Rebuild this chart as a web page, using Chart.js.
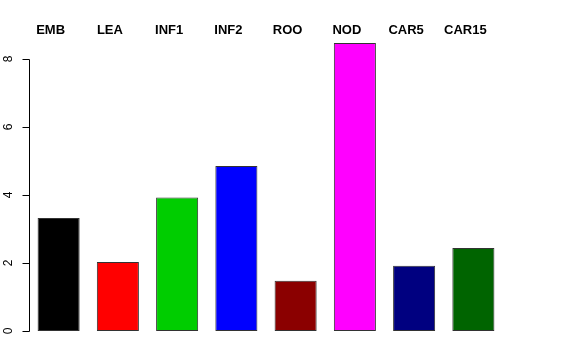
<!DOCTYPE html>
<html>
<head>
<meta charset="utf-8">
<script src="https://cdn.jsdelivr.net/npm/chart.js@4/dist/chart.umd.min.js"></script>
<style>
  html, body { margin: 0; padding: 0; background: #fff; }
  #wrap { width: 576px; height: 360px; position: relative; }
</style>
</head>
<body>
<div id="wrap"><canvas id="barChart"></canvas></div>
<script>
'use strict';

const tissues = ['EMB', 'LEA', 'INF1', 'INF2', 'ROO', 'NOD', 'CAR5', 'CAR15'];
const values  = [3.32, 2.03, 3.93, 4.85, 1.48, 8.47, 1.92, 2.44];
const colors  = ['#000000', '#ff0000', '#00cd00', '#0000ff', '#8b0000', '#ff00ff', '#000080', '#006400'];
const yTicks  = [0, 2, 4, 6, 8];

const FONT = '"Liberation Sans", Arial, sans-serif';

// R-style axes: left axis line only spans the tick range, labels rotated;
// group names written above the plot, a little left of each bar centre
const rAxis = {
  id: 'rAxis',
  afterDraw(chart) {
    const ctx = chart.ctx;
    const ys = chart.scales.y;
    const xs = chart.scales.x;
    const x0 = Math.round(chart.chartArea.left) + 0.5;
    const top = ys.getPixelForValue(yTicks[yTicks.length - 1]);
    const bot = ys.getPixelForValue(yTicks[0]);
    ctx.save();
    ctx.strokeStyle = '#000';
    ctx.lineWidth = 1;
    ctx.beginPath();
    ctx.moveTo(x0, Math.round(top) + 0.5);
    ctx.lineTo(x0, Math.round(bot) + 0.5);
    yTicks.forEach(v => {
      const y = Math.round(ys.getPixelForValue(v)) + 0.5;
      ctx.moveTo(x0 - 7, y);
      ctx.lineTo(x0, y);
    });
    ctx.stroke();
    ctx.fillStyle = '#000';
    ctx.font = '12px ' + FONT;
    ctx.textAlign = 'center';
    ctx.textBaseline = 'middle';
    yTicks.forEach(v => {
      const y = ys.getPixelForValue(v);
      ctx.save();
      ctx.translate(x0 - 21, y);
      ctx.rotate(-Math.PI / 2);
      ctx.fillText(String(v), 0, 0);
      ctx.restore();
    });

    ctx.font = 'bold 13px ' + FONT;
    tissues.forEach((name, i) => {
      ctx.fillText(name, xs.getPixelForTick(i) - 8, 30);
    });
    ctx.restore();
  }
};

new Chart(document.getElementById('barChart'), {
  type: 'bar',
  data: {
    labels: tissues,
    datasets: [{
      data: values,
      backgroundColor: colors,
      borderColor: '#333333',
      borderWidth: 1,
      borderSkipped: false,
      barPercentage: 0.71,
      categoryPercentage: 1,
    }],
  },
  options: {
    responsive: true,
    maintainAspectRatio: false,
    animation: false,
    layout: { padding: { left: 29, right: 73, top: 37, bottom: 29 } },
    plugins: {
      legend: { display: false },
      tooltip: { enabled: false },
    },
    scales: {
      x: { display: false },
      y: {
        display: false,
        min: 0,
        max: 8.647,
      },
    },
  },
  plugins: [rAxis],
});
</script>
</body>
</html>
